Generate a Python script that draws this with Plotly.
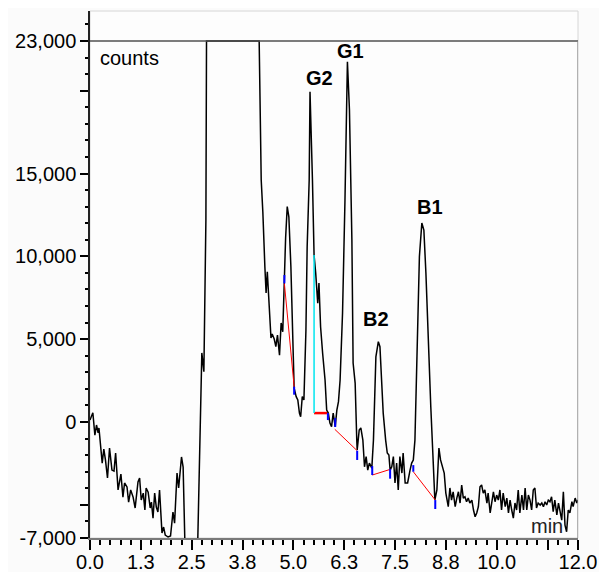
import plotly.graph_objects as go

# ---------------- data ----------------
time_min = [
    0.00, 0.07, 0.12, 0.16, 0.20, 0.22, 0.30, 0.34, 0.38, 0.43, 0.48, 0.54, 0.59, 0.63, 0.69, 0.76,
    0.81, 0.85, 0.91, 0.95, 1.00, 1.06, 1.11, 1.18, 1.22, 1.26, 1.31, 1.35, 1.38, 1.43, 1.48, 1.51,
    1.55, 1.59, 1.63, 1.67, 1.71, 1.77, 1.81, 1.85, 1.92, 1.98, 2.04, 2.08, 2.14, 2.18, 2.25, 2.29,
    2.33, 2.35, 2.64, 2.75, 2.80, 2.85, 2.865,
    4.16, 4.21, 4.25, 4.30, 4.33, 4.36, 4.41, 4.45, 4.48, 4.53, 4.57, 4.61, 4.66, 4.70, 4.74, 4.78,
    4.81, 4.85, 4.89, 4.94, 4.98, 5.02, 5.07, 5.11, 5.15, 5.18, 5.22, 5.26, 5.31, 5.34, 5.39, 5.41,
    5.47, 5.51, 5.55, 5.60, 5.63, 5.67, 5.72, 5.78, 5.82, 5.86, 5.90, 5.94, 5.98, 6.03, 6.07, 6.11,
    6.15, 6.21, 6.27, 6.33, 6.38, 6.44, 6.47, 6.52, 6.56, 6.57, 6.62, 6.66, 6.71, 6.75, 6.79, 6.83,
    6.87, 6.93, 6.97, 7.03, 7.09, 7.13, 7.17, 7.21, 7.27, 7.31, 7.35, 7.38, 7.42, 7.46, 7.50, 7.54,
    7.58, 7.62, 7.67, 7.70, 7.75, 7.81, 7.87, 7.91, 7.95, 7.99, 8.05, 8.10, 8.16, 8.21, 8.26, 8.32,
    8.38, 8.43, 8.48, 8.53, 8.58, 8.62, 8.67, 8.71, 8.75, 8.81, 8.85, 8.89, 8.93, 8.98, 9.02, 9.06,
    9.10, 9.14, 9.18, 9.22, 9.26, 9.30, 9.34, 9.39, 9.43, 9.47, 9.51, 9.55, 9.59, 9.63, 9.67, 9.71,
    9.76, 9.79, 9.84, 9.88, 9.92, 9.96, 10.00, 10.04, 10.08, 10.12, 10.16, 10.21, 10.25, 10.29, 10.33,
    10.37, 10.41, 10.45, 10.49, 10.53, 10.57, 10.62, 10.66, 10.70, 10.74, 10.78, 10.82, 10.86, 10.90,
    10.94, 10.98, 11.02, 11.07, 11.11, 11.15, 11.19, 11.23, 11.27, 11.31, 11.35, 11.39, 11.43, 11.48,
    11.52, 11.56, 11.60, 11.64, 11.68, 11.72, 11.76, 11.80, 11.85, 11.88, 11.93, 11.97, 12.00,
]
counts = [
    120, 560, -790, -180, -660, -360, -2480, -1630, -2290, -3380, -1570, -2900, -2960, -1870, -4100, -3140,
    -4530, -3680, -3920, -4830, -4100, -4530, -5190, -3620, -3380, -4710, -4290, -5310, -3980, -4230, -5190, -4830,
    -5800, -4290, -5130, -5430, -4100, -6700, -6340, -6820, -6940, -6880, -5430, -6100, -3080, -3980, -2110, -2720,
    -6940, -8300, -8300, 4170, 3040, 12190, 23000,
    23000, 14610, 12690, 9370, 7790, 9070, 6580, 5070, 5310, 5010, 4550, 5250, 4040, 5980, 5450, 8810,
    11110, 13000, 12390, 9370, 5550, 2050, 1530, 1330, 540, 320, 1530, 1330, 5550, 10580, 14610, 19940,
    14610, 10080, 8990, 7180, 8390, 5750, 4170, 2540, 720, 540, -60, -280, 540, -280, 720, 1230,
    2540, 6580, 13400, 21750, 18830, 10990, 3560, 2350, -1090, -1690, -480, -360, -1090, -2700, -2090, -2900,
    -2480, -2780, -1090, 3940, 4850, 4550, 2540, 540, -1090, -1870, -1990, -2900, -2700, -2090, -3680, -2480,
    -4100, -2090, -3080, -1870, -3680, -3680, -2900, -2480, -2290, -1090, 4950, 9980, 12010, 11590, 8990, 4550,
    920, -1870, -4710, -4100, -1570, -2290, -2700, -3080, -4290, -5110, -3980, -4710, -4210, -5110, -4590, -4210,
    -4890, -3800, -4590, -4510, -4810, -4590, -4890, -4710, -5310, -5720, -5490, -5110, -3910, -3800, -4290, -4100,
    -4890, -4290, -5490, -4890, -4210, -4810, -4410, -4710, -4100, -5310, -4290, -5110, -4590, -5490, -4710,
    -5310, -5800, -4890, -5310, -4100, -5490, -4410, -5310, -3980, -5310, -4410, -4710, -5310, -4100,
    -3980, -5190, -4890, -5010, -4890, -5110, -4810, -5010, -4710, -4810, -4510, -5410, -4710, -5610,
    -4890, -5310, -5920, -4210, -6220, -6620, -5310, -5490, -4810, -5110, -4590, -4890, -4710,
]

# integration baselines (start/end time, start/end counts)
base_t0 = [4.78, 5.51, 6.02, 6.94, 7.95]
base_t1 = [5.02, 5.83, 6.57, 7.38, 8.49]
base_c0 = [8370, 540, -440, -3200, -3000]
base_c1 = [2130, 540, -1730, -2860, -4710]

# peak start/end markers (time, top counts, bottom counts)
mark_t = [4.78, 5.02, 5.85, 6.03, 6.57, 6.94, 7.38, 7.95, 8.49]
mark_top = [8870, 2130, 540, 240, -1730, -2660, -2840, -2600, -4710]
mark_bot = [8370, 1650, 120, -300, -2290, -3200, -3420, -3000, -5250]

# peak split (drop line)
drop_t = [5.51]
drop_top = [10080]
drop_bot = [540]

# peak labels
peak_names = ["G2", "G1", "B2", "B1"]
peak_label_t = [5.643, 6.406, 7.040, 8.349]
peak_label_c = [20790, 22390, 6220, 12950]

x_tick_vals = [0, 1.25, 2.5, 3.75, 5.0, 6.25, 7.5, 8.75, 10.0, 11.25, 12.0]
x_tick_text = ["0.0", "1.3", "2.5", "3.8", "5.0", "6.3", "7.5", "8.8", "10.0", "", "12.0"]
y_tick_vals = [23000, 20000, 15000, 10000, 5000, 0, -5000, -7000]
y_tick_text = ["23,000", "", "15,000", "10,000", "5,000", "0", "", "-7,000"]

Y_TOP = 24810
Y_CLIP = 23000
Y_MIN = -7000

FONT = "Liberation Sans, Arial, sans-serif"

fig = go.Figure()

# chromatogram
fig.add_trace(go.Scatter(x=time_min, y=counts, mode="lines",
                         line=dict(color="#000000", width=1.5), hoverinfo="skip"))

# baselines
for i in range(len(base_t0)):
    w = 2.5 if base_c0[i] == base_c1[i] else 1.0
    fig.add_trace(go.Scatter(x=[base_t0[i], base_t1[i]], y=[base_c0[i], base_c1[i]],
                             mode="lines", line=dict(color="#ff0000", width=w), hoverinfo="skip"))

# drop line
for i in range(len(drop_t)):
    fig.add_trace(go.Scatter(x=[drop_t[i], drop_t[i]], y=[drop_top[i], drop_bot[i]],
                             mode="lines", line=dict(color="#00e5ee", width=1.5), hoverinfo="skip"))

# markers
mx, my = [], []
for i in range(len(mark_t)):
    mx += [mark_t[i], mark_t[i], None]
    my += [mark_top[i], mark_bot[i], None]
fig.add_trace(go.Scatter(x=mx, y=my, mode="lines", connectgaps=False,
                         line=dict(color="#0000ff", width=2), hoverinfo="skip"))

# frame pieces
fig.add_shape(type="rect", xref="paper", yref="paper", x0=0, x1=1, y0=0, y1=1,
              line=dict(color="#d6d6d6", width=1), layer="below")
fig.add_shape(type="line", xref="x", yref="y", x0=0, x1=12, y0=Y_CLIP, y1=Y_CLIP,
              line=dict(color="#505050", width=1.5))
fig.add_shape(type="line", xref="x", yref="y", x0=12, x1=12, y0=Y_MIN, y1=Y_CLIP,
              line=dict(color="#8a8a8a", width=1.2))

for name, t, c in zip(peak_names, peak_label_t, peak_label_c):
    fig.add_annotation(x=t, y=c, xref="x", yref="y", text="<b>%s</b>" % name, showarrow=False,
                       font=dict(family=FONT, size=20, color="#000"), xanchor="center", yanchor="middle")

fig.add_annotation(x=0.2, y=21970, xref="x", yref="y", text="counts", showarrow=False,
                   font=dict(family=FONT, size=20, color="#000"), xanchor="left", yanchor="middle")
fig.add_annotation(x=11.68, y=-6250, xref="x", yref="y", text="min", showarrow=False,
                   font=dict(family=FONT, size=20, color="#222"), xanchor="right", yanchor="middle")

fig.update_layout(
    width=599, height=564,
    margin=dict(l=82, r=29, t=3, b=34, autoexpand=False),
    paper_bgcolor="#fbfbfb",
    plot_bgcolor="#fdfdfd",
    showlegend=False,
    font=dict(family=FONT, size=20, color="#000"),
    xaxis=dict(range=[0, 12], tickmode="array", tickvals=x_tick_vals, ticktext=x_tick_text,
               automargin=False, ticklabelstandoff=-5,
               ticks="outside", ticklen=10, tickwidth=2, tickcolor="#000",
               showline=True, linecolor="#7a7a7a", linewidth=1.5, showgrid=False, zeroline=False,
               tickfont=dict(family=FONT, size=20, color="#000"),
               minor=dict(dtick=0.25, tick0=0, ticks="outside", ticklen=5, tickwidth=1.5, tickcolor="#000",
                          showgrid=False)),
    yaxis=dict(range=[Y_MIN, Y_TOP], tickmode="array", tickvals=y_tick_vals, ticktext=y_tick_text,
               automargin=False,
               ticks="outside", ticklen=8, tickwidth=2, tickcolor="#000",
               showline=True, linecolor="#222", linewidth=1.5, showgrid=False, zeroline=False,
               tickfont=dict(family=FONT, size=20, color="#000"),
               minor=dict(dtick=1000, tick0=0, ticks="outside", ticklen=3.5, tickwidth=1.5, tickcolor="#000",
                          showgrid=False)),
)

fig.write_html("out.html")
